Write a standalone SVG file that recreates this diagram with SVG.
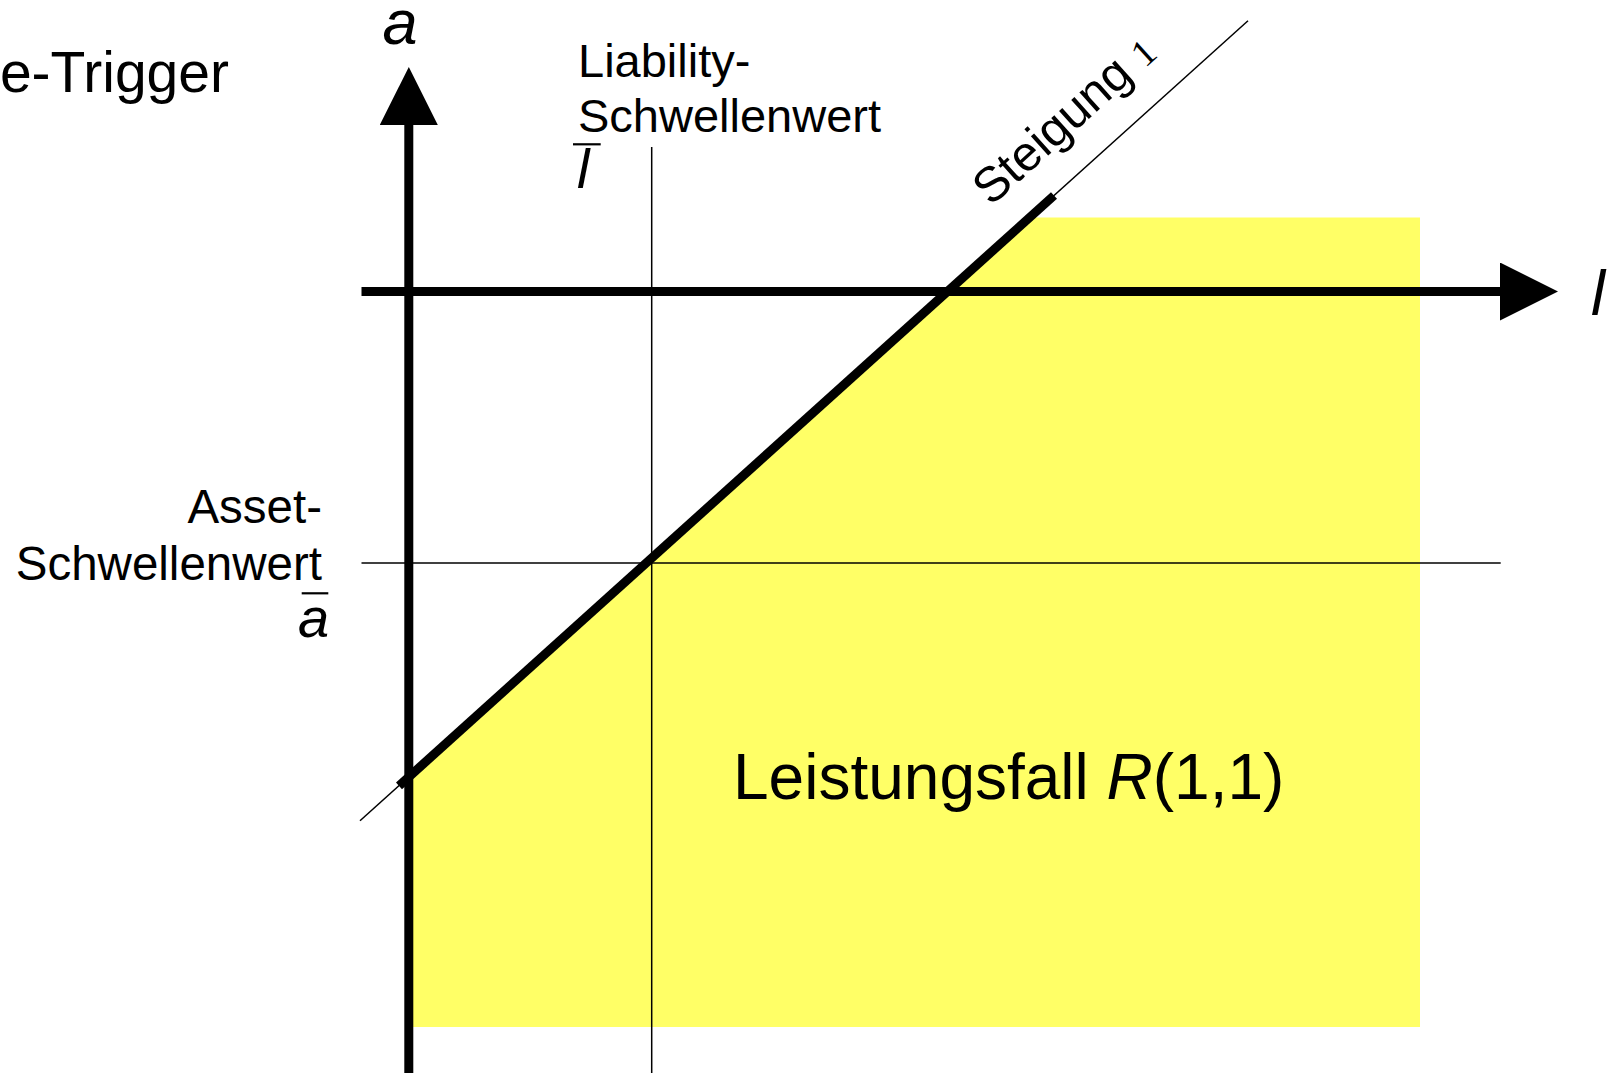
<svg xmlns="http://www.w3.org/2000/svg" width="1624" height="1073" viewBox="0 0 1624 1073">
<defs>
<style>
.lbl{font-family:"Liberation Sans",Arial,sans-serif;fill:#000}
.it{font-style:italic}
.thin{stroke:#000;stroke-width:1.5;fill:none}
.axis{stroke:#000;stroke-width:9;fill:none}
.bar{stroke:#000;stroke-width:2.2}
</style>
<marker id="arrow" markerUnits="userSpaceOnUse" markerWidth="58" markerHeight="58" refX="0" refY="29" orient="auto" viewBox="0 0 58 58">
<path d="M0,0 L58,29 L0,58 z" fill="#000"/>
</marker>
</defs>
<rect width="1624" height="1073" fill="#fff"/>
<g id="region-R11">
<polygon points="408,777.6 1029.6,217.5 1420,217.5 1420,1027 408,1027" fill="#ffff66"/>
<text class="lbl" x="733" y="799" font-size="64">Leistungsfall <tspan class="it">R</tspan>(1,1)</text>
</g>
<g id="connectors">
<line id="thresh-l" class="thin" x1="651.7" y1="147" x2="651.7" y2="1073"/>
<line id="thresh-a" class="thin" x1="361.5" y1="563" x2="1500.7" y2="563"/>
<line id="slope-thin" class="thin" x1="360" y1="820.8" x2="1248" y2="20.7"/>
<line id="slope-thick" class="axis" x1="399" y1="785.8" x2="1054" y2="195.5"/>
<line id="axis-a" class="axis" x1="408.8" y1="1073" x2="408.8" y2="125" marker-end="url(#arrow)"/>
<line id="axis-l" class="axis" x1="361.5" y1="291.5" x2="1500" y2="291.5" marker-end="url(#arrow)"/>
</g>
<g id="title">
<text class="lbl" x="229" y="91.7" font-size="57" text-anchor="end">e-Trigger</text>
</g>
<g id="label-a">
<text class="lbl it" x="400" y="44" font-size="63" text-anchor="middle">a</text>
</g>
<g id="label-l">
<text class="lbl it" x="1591" y="315" font-size="63">l</text>
</g>
<g id="label-liability">
<text class="lbl" x="578" y="77" font-size="47">Liability-</text>
<text class="lbl" x="578" y="131.7" font-size="47">Schwellenwert</text>
<line class="bar" x1="573" y1="144.3" x2="600.7" y2="144.3"/>
<text class="lbl it" x="577" y="188" font-size="56">l</text>
</g>
<g id="label-asset">
<text class="lbl" x="322" y="523.3" font-size="47.5" text-anchor="end">Asset-</text>
<text class="lbl" x="322" y="580" font-size="47.5" text-anchor="end">Schwellenwert</text>
<line class="bar" x1="301.7" y1="593.3" x2="328.3" y2="593.3"/>
<text class="lbl it" x="298" y="636.7" font-size="56">a</text>
</g>
<g id="label-slope">
<text class="lbl" transform="translate(991,207) rotate(-42)" font-size="49">Steigung <tspan font-family="'Liberation Serif',serif" font-size="38">1</tspan></text>
</g>
</svg>
